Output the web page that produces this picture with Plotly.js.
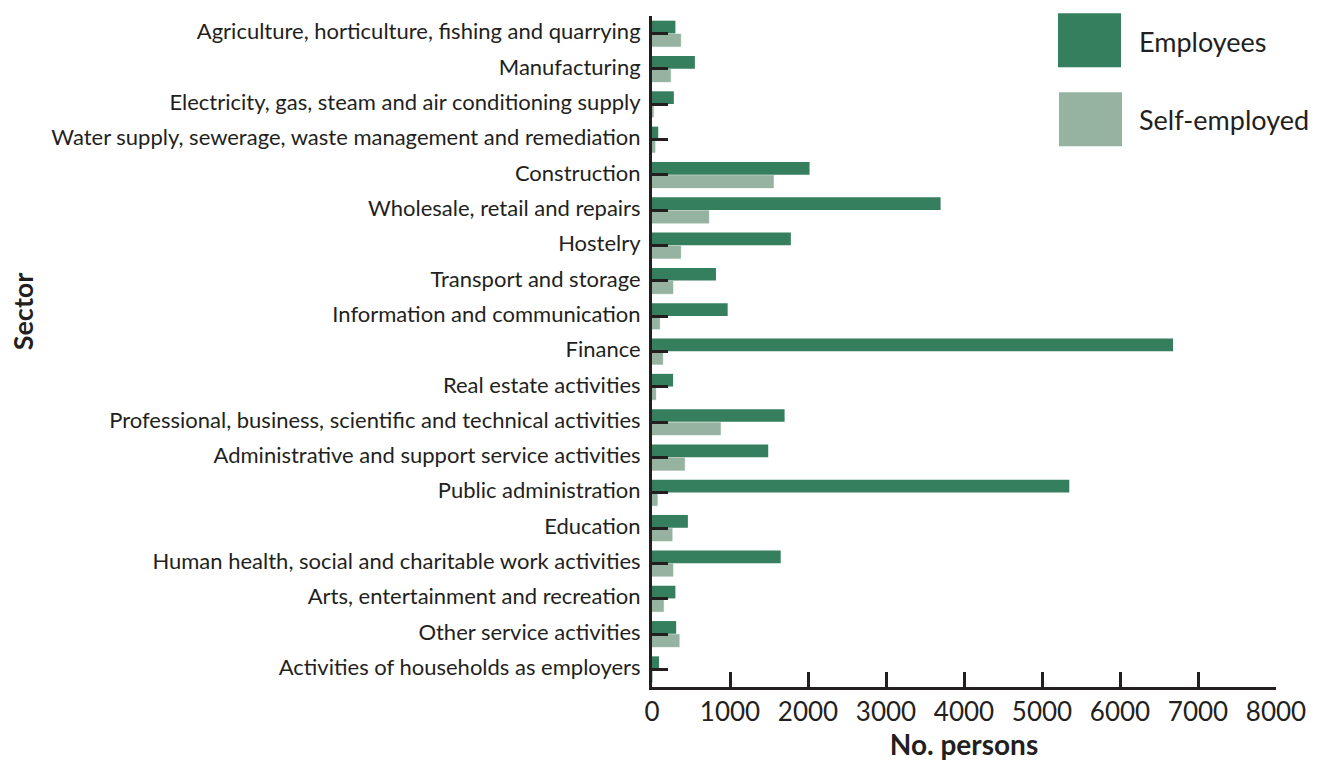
<!DOCTYPE html>
<html>
<head>
<meta charset="utf-8">
<script src="https://cdn.plot.ly/plotly-3.0.1.min.js"></script>
<style>html,body{margin:0;padding:0;background:#fff;}#chart{width:1325px;height:762px;}</style>
</head>
<body>
<div id="chart"></div>
<script>
const sectors = [
  "Agriculture, horticulture, fishing and quarrying",
  "Manufacturing",
  "Electricity, gas, steam and air conditioning supply",
  "Water supply, sewerage, waste management and remediation",
  "Construction",
  "Wholesale, retail and repairs",
  "Hostelry",
  "Transport and storage",
  "Information and communication",
  "Finance",
  "Real estate activities",
  "Professional, business, scientific and technical activities",
  "Administrative and support service activities",
  "Public administration",
  "Education",
  "Human health, social and charitable work activities",
  "Arts, entertainment and recreation",
  "Other service activities",
  "Activities of households as employers"
];
const employees = [300, 550, 280, 80, 2020, 3700, 1780, 820, 970, 6680, 270, 1700, 1490, 5350, 460, 1650, 300, 310, 90];
const selfEmployed = [370, 240, 20, 40, 1560, 730, 370, 270, 100, 140, 50, 880, 420, 70, 260, 270, 150, 350, 5];
const seriesNames = ["Employees", "Self-employed"];
const xTicks = [0, 1000, 2000, 3000, 4000, 5000, 6000, 7000, 8000];
const xTitle = "No. persons";
const yTitle = "Sector";

const colEmp = "#357f5e";
const colSelf = "#95b3a0";
const ink = "#231f20";
const FONT = "Lato, sans-serif";

const traces = [
  {type: "bar", orientation: "h", name: seriesNames[0], y: sectors, x: employees,
   marker: {color: colEmp}, showlegend: false, hoverinfo: "x+y"},
  {type: "bar", orientation: "h", name: seriesNames[1], y: sectors, x: selfEmployed,
   marker: {color: colSelf, line: {color: "rgba(149,179,160,0.35)", width: 1}}, showlegend: false, hoverinfo: "x+y"}
];

const layout = {
  width: 1325, height: 762,
  margin: {l: 652, r: 49, t: 16, b: 75, pad: 0},
  paper_bgcolor: "#ffffff", plot_bgcolor: "#ffffff",
  font: {family: FONT, color: ink, size: 22},
  barmode: "group", bargap: 0.25, bargroupgap: 0.04,
  xaxis: {
    range: [0, 8000], tickvals: xTicks, ticktext: xTicks.map(String),
    showgrid: false, zeroline: false,
    showline: true, linecolor: ink, linewidth: 3,
    ticks: "inside", ticklen: 15, tickwidth: 3, tickcolor: ink,
    tickfont: {family: FONT, size: 26, color: ink},
    title: {text: "<b>" + xTitle + "</b>", font: {family: FONT, size: 28, color: ink}, standoff: 10},
    fixedrange: true
  },
  yaxis: {
    autorange: "reversed", type: "category",
    showgrid: false, zeroline: false,
    showline: true, linecolor: ink, linewidth: 3,
    ticks: "inside", ticklen: 16, tickwidth: 3, tickcolor: ink,
    tickfont: {family: FONT, size: 22, color: ink},
    ticklabelstandoff: 4, ticklabelshift: 2,
    automargin: false,
    fixedrange: true
  },
  shapes: [
    {type: "rect", xref: "paper", yref: "paper", x0: 0.6506, x1: 0.7516, y0: 0.9235, y1: 1.004,
     fillcolor: colEmp, line: {width: 0}},
    {type: "rect", xref: "paper", yref: "paper", x0: 0.6522, x1: 0.7532, y0: 0.8058, y1: 0.8863,
     fillcolor: colSelf, line: {width: 0}}
  ],
  annotations: [
    {xref: "paper", yref: "paper", x: 0.7775, y: 0.9623, xanchor: "left", yanchor: "middle",
     text: seriesNames[0], showarrow: false, font: {family: FONT, size: 27, color: ink}},
    {xref: "paper", yref: "paper", x: 0.7775, y: 0.8455, xanchor: "left", yanchor: "middle",
     text: seriesNames[1], showarrow: false, font: {family: FONT, size: 27, color: ink}},
    {xref: "paper", yref: "paper", x: -1.0096, y: 0.5599, xanchor: "center", yanchor: "middle",
     text: "<b>" + yTitle + "</b>", textangle: -90, showarrow: false,
     font: {family: FONT, size: 27, color: ink}}
  ]
};

Plotly.newPlot("chart", traces, layout, {displayModeBar: false, staticPlot: true});
</script>
</body>
</html>
